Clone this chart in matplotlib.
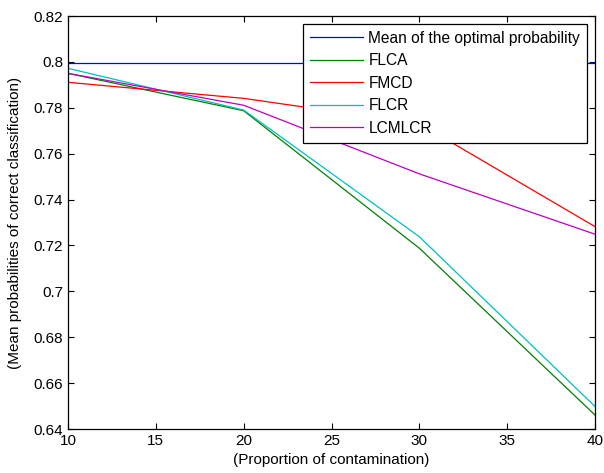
import numpy as np
import matplotlib
matplotlib.use("Agg")
import matplotlib.pyplot as plt
from matplotlib.ticker import FuncFormatter

plt.rcParams['font.family'] = ['Liberation Sans', 'DejaVu Sans']

# datos
contaminacion = [10, 20, 30, 40]
optima = [0.7995, 0.7995, 0.7995, 0.7995]
flca = [0.795, 0.7787, 0.7188, 0.6461]
fmcd = [0.7911, 0.7841, 0.7731, 0.7282]
flcr = [0.7972, 0.7790, 0.7238, 0.6498]
lcmlcr = [0.795, 0.7811, 0.7512, 0.7249]

nombres = ["Mean of the optimal probability", "FLCA", "FMCD", "FLCR", "LCMLCR"]
colores = [(0, 0, 1), (0, 0.5, 0), (1, 0, 0), (0, 0.75, 0.75), (0.75, 0, 0.75)]

fig = plt.figure(figsize=(6.04, 4.73), dpi=100)
ax = fig.add_axes([68/604, 1-429/473, (595-68)/604, (429-16)/473])

for serie, nombre, color in zip([optima, flca, fmcd, flcr, lcmlcr], nombres, colores):
    ax.plot(contaminacion, serie, color=color, lw=0.9, label=nombre)

ax.set_xlim(10, 40)
ax.set_ylim(0.64, 0.82)
ax.set_xticks(np.arange(10, 41, 5))
ax.set_yticks(np.arange(0.64, 0.8201, 0.02))
ax.yaxis.set_major_formatter(FuncFormatter(lambda v, p: "%g" % round(v, 2)))
ax.tick_params(direction="in", top=True, right=True, labelsize=11, length=4, width=0.8)
for s in ax.spines.values():
    s.set_linewidth(0.9)

ax.set_xlabel("(Proportion of contamination)", fontsize=11, labelpad=4)
ax.set_ylabel("(Mean probabilities of correct classification)", fontsize=11, labelpad=8)

leg = ax.legend(loc="upper right", fontsize=11.2, fancybox=False, framealpha=1,
                edgecolor="black", handlelength=3.4, handletextpad=0.35,
                labelspacing=0.48, borderaxespad=0.5, borderpad=0.45)
leg.get_frame().set_linewidth(0.9)

plt.savefig("out.png", dpi=100)
